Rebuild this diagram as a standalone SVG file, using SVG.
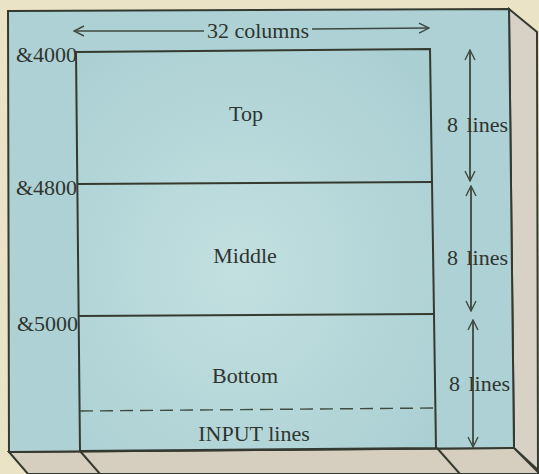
<svg xmlns="http://www.w3.org/2000/svg" width="539" height="474" viewBox="0 0 539 474">
<defs>
<style>
.ln{stroke:#353a30;stroke-width:2}
.thin{stroke:#3f4a40;stroke-width:1.4;fill:none}
.t{font-family:"Liberation Serif","Times New Roman",serif;font-size:22px;fill:#2e3530}
.ah{stroke:#3f4a40;stroke-width:1.4;fill:none}
</style>
<marker id="arr" viewBox="0 0 12 12" refX="11" refY="6" markerWidth="12" markerHeight="12" markerUnits="userSpaceOnUse" orient="auto">
<path d="M1,1 L11,6 L1,11" class="ah"/>
</marker>
<radialGradient id="cloud" cx="0.45" cy="0.55" r="0.7">
<stop offset="0" stop-color="#c3e0e0"/>
<stop offset="1" stop-color="#aacfd3"/>
</radialGradient>
</defs>
<rect x="0" y="0" width="539" height="474" fill="#ebe3c6"/>
<g id="case">
<polygon points="509,9 537,32 538,470 514,448" style="fill:#d8d1c6" class="ln"/>
<polygon points="9,452 514,448 538,472 538,474 28,474" style="fill:#d6cebf" class="ln"/>
<polygon points="8,11 509,9 514,448 9,452" style="fill:#aed1d5" class="ln"/>
<line x1="80" y1="451" x2="100" y2="474" class="ln"/>
<line x1="437" y1="448" x2="460" y2="474" class="ln"/>
</g>
<g id="screen">
<polygon points="76,52 430,49 436,448 80,451" style="fill:url(#cloud)" class="ln"/>
</g>
<g id="top">
<text class="t" x="246" y="121" text-anchor="middle">Top</text>
</g>
<g id="middle">
<line x1="77" y1="184" x2="432" y2="182" class="ln"/>
<text class="t" x="245" y="263" text-anchor="middle">Middle</text>
</g>
<g id="bottom">
<line x1="78" y1="316" x2="434" y2="314" class="ln"/>
<text class="t" x="245" y="383" text-anchor="middle">Bottom</text>
</g>
<g id="input">
<line x1="80" y1="411" x2="436" y2="408" class="thin" stroke-dasharray="13 7"/>
<text class="t" x="254" y="441" text-anchor="middle">INPUT lines</text>
</g>
<g id="addresses">
<text class="t" x="77" y="62" text-anchor="end">&amp;4000</text>
<text class="t" x="77" y="195" text-anchor="end">&amp;4800</text>
<text class="t" x="78" y="331" text-anchor="end">&amp;5000</text>
</g>
<g id="connectors">
<line x1="204" y1="31" x2="74" y2="31" class="thin" marker-end="url(#arr)"/>
<line x1="312" y1="29" x2="429" y2="28" class="thin" marker-end="url(#arr)"/>
<line x1="470" y1="180" x2="470" y2="50" class="thin" marker-end="url(#arr)"/>
<line x1="470" y1="52" x2="470" y2="181" class="thin" marker-end="url(#arr)"/>
<line x1="471" y1="310" x2="471" y2="186" class="thin" marker-end="url(#arr)"/>
<line x1="471" y1="188" x2="471" y2="311" class="thin" marker-end="url(#arr)"/>
<line x1="473" y1="446" x2="473" y2="320" class="thin" marker-end="url(#arr)"/>
<line x1="473" y1="322" x2="473" y2="447" class="thin" marker-end="url(#arr)"/>
</g>
<g id="dimensions">
<text class="t" x="258" y="38" text-anchor="middle">32 columns</text>
<text class="t" x="447" y="132" word-spacing="3">8 lines</text>
<text class="t" x="447" y="265" word-spacing="3">8 lines</text>
<text class="t" x="449" y="391" word-spacing="3">8 lines</text>
</g>
</svg>
